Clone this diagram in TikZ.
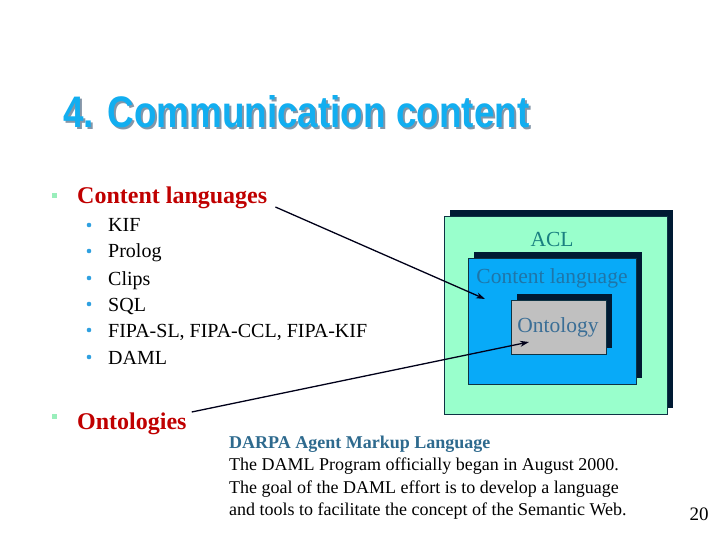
\documentclass[tikz,border=0pt]{standalone}
\usepackage{fontspec}
\setmainfont{Liberation Serif}
\newfontfamily\titlefont{Liberation Sans}
\usetikzlibrary{shadows,arrows.meta}

\definecolor{titlecyan}{HTML}{12AEF0}
\definecolor{titleshade}{HTML}{8496A8}
\definecolor{headred}{HTML}{C00000}
\definecolor{bulletgreen}{HTML}{99EEBB}
\definecolor{bulletblue}{HTML}{2FA0E0}
\definecolor{aclgreen}{HTML}{99FFCC}
\definecolor{clblue}{HTML}{08AAF8}
\definecolor{ontogray}{HTML}{C0C0C0}
\definecolor{boxshade}{HTML}{001A33}
\definecolor{boxline}{HTML}{0E3344}
\definecolor{acltext}{HTML}{1A8080}
\definecolor{cltext}{HTML}{1F75A8}
\definecolor{ontotext}{HTML}{3A6E96}
\definecolor{darpablue}{HTML}{2E6A8E}

\newcommand{\titletext}{\resizebox{466pt}{32pt}{\titlefont\bfseries 4. Communication content}}

\tikzset{
  layer/.style={draw=boxline, line width=0.8pt, inner sep=0pt,
    drop shadow={shadow xshift=6pt, shadow yshift=6pt, fill=boxshade, opacity=1}},
  head/.style={anchor=base west, inner sep=0pt, font=\fontsize{24}{28}\selectfont\bfseries, text=headred},
  item/.style={anchor=base west, inner sep=0pt, font=\fontsize{20}{24}\selectfont},
  boxlabel/.style={anchor=base, inner sep=0pt, font=\fontsize{21.5}{25}\selectfont},
  note/.style={anchor=base west, inner sep=0pt, font=\fontsize{18}{22}\selectfont},
  pointer/.style={-{Stealth[length=9pt,width=6pt]}, line width=1.3pt, draw=black!90!blue}
}

\begin{document}
\begin{tikzpicture}[x=1pt,y=-1pt]
  		\useasboundingbox[fill=white] (0,0) rectangle (720,540);
  		
  		% Title (shadow drawn inside the same node)
  		\node[anchor=base west, inner sep=0pt] (title) at (63,128)
  		  {\rlap{\raisebox{-2pt}[0pt][0pt]{\hspace{2pt}\color{titleshade}\titletext}}\color{titlecyan}\titletext};
  		
  		% Bullets
  		\fill[bulletgreen] (52,193) rectangle (57,198);
  		\fill[bulletgreen] (52,414) rectangle (57,419);
  		\foreach \y in {225,251,278,304,330,357}
  		  \fill[bulletblue] (89,\y) circle (2.3);
  		
  		% Nodes
  		\node[head] (clang) at (77,204) {Content languages};
  		\node[item] (kif) at (108,232) {KIF};
  		\node[item] (prolog) at (108,258) {Prolog};
  		\node[item] (clips) at (108,285) {Clips};
  		\node[item] (sql) at (108,311) {SQL};
  		\node[item] (fipa) at (108,337) {FIPA-SL, FIPA-CCL, FIPA-KIF};
  		\node[item] (daml) at (108,364) {DAML};
  		\node[head] (onto) at (77,429) {Ontologies};
  		
  		% Boxes
  		\node[layer, fill=aclgreen, minimum width=223pt, minimum height=198pt] (acl) at (555.5,315) {};
  		\node[layer, fill=clblue, minimum width=168pt, minimum height=126pt] (cl) at (552,321) {};
  		\node[layer, fill=ontogray, minimum width=95pt, minimum height=54pt] (ont) at (558.5,327) {};
  		\node[boxlabel, text=acltext] (acllabel) at (552,247) {ACL};
  		\node[boxlabel, text=cltext] (cllabel) at (552,283) {Content language};
  		\node[boxlabel, text=ontotext] (ontlabel) at (558,332) {Ontology};
  		
  		% Edges
  		\coordinate (cltip) at (485,299);
  		\coordinate (onttip) at (529,342);
  		\draw[pointer] ([xshift=8pt,yshift=-3pt]clang.base east) -- (cltip);
  		\draw[pointer] ([xshift=5pt,yshift=17pt]onto.base east) -- (onttip);
  		
  		% Notes
  		\node[note, font=\fontsize{18}{22}\selectfont\bfseries, text=darpablue] (darpa) at (229,448) {DARPA Agent Markup Language};
  		\node[note] (line1) at (229,470.5) {The DAML Program officially began in August 2000.};
  		\node[note] (line2) at (229,493) {The goal of the DAML effort is to develop a language};
  		\node[note] (line3) at (229,515.5) {and tools to facilitate the concept of the Semantic Web.};
  		\node[anchor=base, inner sep=0pt, font=\fontsize{19}{22}\selectfont] (page) at (699,520) {20};
  	\end{tikzpicture}
\end{document}
